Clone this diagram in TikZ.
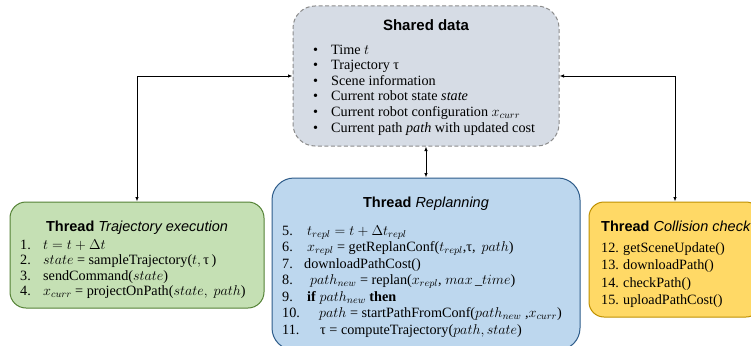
\RequirePackage{fix-cm}
\documentclass[tikz,border=0pt]{standalone}
\usepackage{fontspec}
\setmainfont{Liberation Serif}
\setsansfont{Liberation Sans}
\usetikzlibrary{arrows.meta}

\definecolor{sharedfill}{HTML}{D6DCE5}
\definecolor{shareddraw}{HTML}{8C8C8C}
\definecolor{execfill}{HTML}{C5E0B4}
\definecolor{execdraw}{HTML}{548235}
\definecolor{replfill}{HTML}{BDD7EE}
\definecolor{repldraw}{HTML}{2E5C8A}
\definecolor{collfill}{HTML}{FFD966}
\definecolor{colldraw}{HTML}{BF9000}

\newcommand{\bodysize}{\fontsize{14.2}{15.6}\selectfont}

\begin{document}
\begin{tikzpicture}[x=1pt, y=-1pt, >={Latex[length=4.5pt,width=3.5pt]},
  threadbox/.style={line width=1pt, inner sep=0pt},
  titletext/.style={font=\sffamily\fontsize{14.5}{17}\selectfont, anchor=base, inner sep=0pt},
  listtext/.style={font=\bodysize, anchor=base west, inner sep=0pt},
  link/.style={<->, line width=0.8pt}]
\useasboundingbox (0,0) rectangle (751,345);
% boxes
\node[threadbox, draw=shareddraw, fill=sharedfill, dashed, dash pattern=on 4pt off 2.5pt,
  rounded corners=22pt, minimum width=266pt, minimum height=140pt] (shared) at (426,76) {};
\node[threadbox, draw=execdraw, fill=execfill, rounded corners=16pt,
  minimum width=254pt, minimum height=106pt] (exec) at (137,255) {};
\node[threadbox, draw=repldraw, fill=replfill, rounded corners=22pt,
  minimum width=308pt, minimum height=172pt] (repl) at (426,264) {};
\node[threadbox, draw=colldraw, fill=collfill, rounded corners=15pt,
  minimum width=172pt, minimum height=115pt] (coll) at (675,259.5) {};
% arrows
\draw[link] (shared.west) -| (exec.north);
\draw[link] (shared.east) -| (coll.north);
\draw[link] (shared.south) -- (repl.north);
% shared data
\node[titletext, font=\sffamily\bfseries\fontsize{15}{18}\selectfont] (sharedtitle) at (426,31) {Shared data};
\node[listtext] (sharedlist) at (313,54) {\begin{tabular}[t]{@{}p{18pt}@{}l@{}}
• & Time $t$\\
• & Trajectory τ\\
• & Scene information\\
• & Current robot state \textit{state}\\
• & Current robot configuration $x_{curr}$\\
• & Current path \textit{path} with updated cost
\end{tabular}};
% trajectory execution
\node[titletext] (exectitle) at (137,231) {\textbf{Thread} \textit{Trajectory execution}};
\node[listtext] (execlist) at (20,249) {\begin{tabular}[t]{@{}p{23pt}@{}l@{}}
1. & $t = t + \Delta t$\\
2. & $state$ = sampleTrajectory($t,$\,τ\,)\\
3. & sendCommand($state$)\\
4. & $x_{curr}$ = projectOnPath($state,\ path$)
\end{tabular}};
% replanning
\node[titletext] (repltitle) at (426,207) {\textbf{Thread} \textit{Replanning}};
\node[listtext] (repllist) at (282,235) {\renewcommand{\arraystretch}{1.058}\begin{tabular}[t]{@{}p{25pt}@{}l@{}}
5. & $t_{repl} = t + \Delta t_{repl}$\\
6. & $x_{repl}$ = getReplanConf($t_{repl}$,τ,\ \,$path$)\\
7. & \hspace{-3pt}downloadPathCost()\\
8. & \hspace{3pt}$path_{new}$ = replan($x_{repl}$, $max\,\_time$)\\
9. & \textbf{if} $path_{new}$ \textbf{then}\\
10. & \hspace{12pt}$path$ = startPathFromConf($path_{new}$\ ,$x_{curr}$)\\
11. & \hspace{13pt}τ = computeTrajectory($path, state$)
\end{tabular}};
% collision check
\node[titletext, anchor=base west] (colltitle) at (601,231) {\textbf{Thread} \textit{Collision check}};
\node[listtext] (colllist) at (601,252) {\renewcommand{\arraystretch}{1.13}\begin{tabular}[t]{@{}p{22pt}@{}l@{}}
12. & getSceneUpdate()\\
13. & downloadPath()\\
14. & checkPath()\\
15. & uploadPathCost()
\end{tabular}};
\end{tikzpicture}
\end{document}
